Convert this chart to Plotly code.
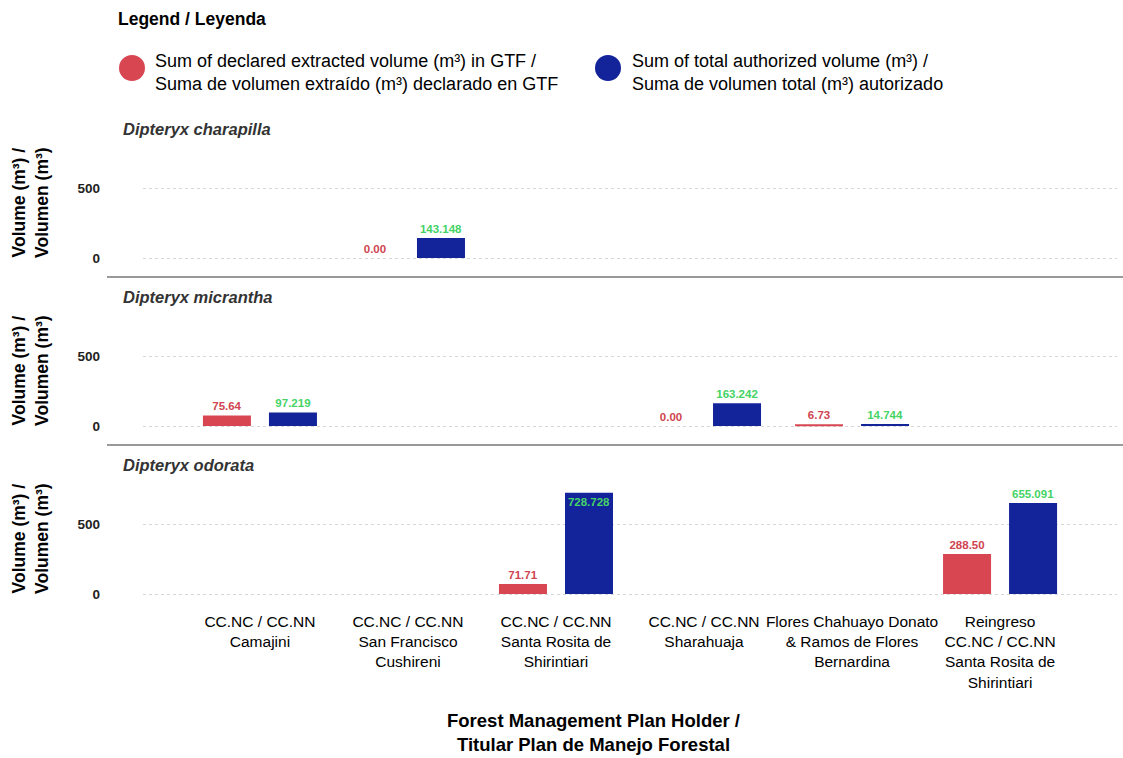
import plotly.graph_objects as go
from plotly.subplots import make_subplots

# data
holders = [
    "CC.NC / CC.NN<br>Camajini",
    "CC.NC / CC.NN<br>San Francisco<br>Cushireni",
    "CC.NC / CC.NN<br>Santa Rosita de<br>Shirintiari",
    "CC.NC / CC.NN<br>Sharahuaja",
    "Flores Chahuayo Donato<br>& Ramos de Flores<br>Bernardina",
    "Reingreso<br>CC.NC / CC.NN<br>Santa Rosita de<br>Shirintiari",
]
species = ["Dipteryx charapilla", "Dipteryx micrantha", "Dipteryx odorata"]

extracted_charapilla = [None, 0.00, None, None, None, None]
authorized_charapilla = [None, 143.148, None, None, None, None]
extracted_micrantha = [75.64, None, None, 0.00, 6.73, None]
authorized_micrantha = [97.219, None, None, 163.242, 14.744, None]
extracted_odorata = [None, None, 71.71, None, None, 288.50]
authorized_odorata = [None, None, 728.728, None, None, 655.091]

extracted = [extracted_charapilla, extracted_micrantha, extracted_odorata]
authorized = [authorized_charapilla, authorized_micrantha, authorized_odorata]

W, H = 1123, 758
RED = "#d84652"
BLUE = "#13239a"
RED_TXT = "#cf4450"
GREEN_TXT = "#45d366"
SANS = "Liberation Sans, Arial, sans-serif"


def px_x(x):
    return x / W


def px_y(y):
    return 1 - y / H


fig = make_subplots(rows=3, cols=1, shared_xaxes=True, vertical_spacing=0.02)

# panel pixel geometry (zero line pixel rows)
zero_rows = [258, 426, 594]
strip_rows = [129, 297, 465]
scale = 69.5 / 500  # px per unit
y_lo, y_hi = -40, 790

for i in range(3):
    fig.add_trace(go.Bar(
        x=holders, y=extracted[i], marker=dict(color=RED, line=dict(width=0)),
        texttemplate="%{y:.2f}", textposition="outside", textangle=0, cliponaxis=False,
        textfont=dict(color=RED_TXT, size=11.5, family=SANS, weight="bold"),
        constraintext="none", showlegend=False, hoverinfo="x+y",
    ), row=i + 1, col=1)
    pos = ["inside" if (v is not None and v > 700) else "outside" for v in authorized[i]]
    fig.add_trace(go.Bar(
        x=holders, y=authorized[i], marker=dict(color=BLUE, line=dict(width=0)),
        texttemplate="%{y:.3f}", textposition=pos, insidetextanchor="end", textangle=0,
        cliponaxis=False,
        textfont=dict(color=GREEN_TXT, size=11.5, family=SANS, weight="bold"),
        constraintext="none", showlegend=False, hoverinfo="x+y",
    ), row=i + 1, col=1)

    z = zero_rows[i]
    bottom = z - y_lo * scale
    top = bottom - (y_hi - y_lo) * scale
    yname = "yaxis" if i == 0 else f"yaxis{i + 1}"
    fig.layout[yname].update(
        domain=[px_y(bottom), px_y(top)], range=[y_lo, y_hi], automargin=False,
        tickvals=[0, 500], ticktext=["<b>0</b>", "<b>500</b>"],
        tickfont=dict(size=13.5, color="#222", family=SANS),
        ticklabelstandoff=42, showgrid=True, gridcolor="#d6d6d6", griddash="dot",
        gridwidth=1, zeroline=False, showline=False, ticks="",
    )

    # y title per panel
    fig.add_annotation(
        text="<b>Volume (m³) /<br>Volumen (m³)</b>",
        xref="paper", yref="paper", x=px_x(31), y=px_y((top + bottom) / 2 - 3),
        textangle=-90, showarrow=False, font=dict(size=17.5, family=SANS, color="black"),
        xanchor="center", yanchor="middle",
    )
    # strip title
    fig.add_annotation(
        text=f"<b><i>{species[i]}</i></b>", xref="paper", yref="paper",
        x=px_x(121), y=px_y(strip_rows[i]),
        xanchor="left", yanchor="middle", showarrow=False,
        font=dict(size=16.5, family=SANS, color="#333"),
    )

for i in range(3):
    xname = "xaxis" if i == 0 else f"xaxis{i + 1}"
    fig.layout[xname].update(
        domain=[px_x(143), px_x(1117)], range=[-0.79, 5.79], automargin=False,
        showgrid=False, zeroline=False, showline=False, ticks="", tickangle=0,
    )
fig.update_xaxes(showticklabels=False, row=1, col=1)
fig.update_xaxes(showticklabels=False, row=2, col=1)
fig.update_xaxes(showticklabels=True, tickfont=dict(size=15.5, family=SANS, color="black"),
                 ticklabelstandoff=11, row=3, col=1)

# separator lines between panels
for yy in [277, 445]:
    fig.add_shape(type="line", xref="paper", yref="paper", x0=px_x(107), x1=1,
                  y0=px_y(yy), y1=px_y(yy), line=dict(color="#777", width=1.5))

# x title
fig.add_annotation(
    text="<b>Forest Management Plan Holder /<br>Titular Plan de Manejo Forestal</b>",
    xref="paper", yref="paper", x=px_x(593), y=px_y(732), showarrow=False,
    xanchor="center", yanchor="middle", font=dict(size=18.5, family=SANS, color="black"),
)

# legend
fig.add_annotation(text="<b>Legend / Leyenda</b>", xref="paper", yref="paper",
                   x=px_x(116), y=px_y(19), xanchor="left", yanchor="middle", showarrow=False,
                   font=dict(size=17.5, family=SANS, color="black"))
legend_items = [
    (132, RED, 153, "Sum of declared extracted volume (m³) in GTF /<br>Suma de volumen extraído (m³) declarado en GTF"),
    (608, BLUE, 630, "Sum of total authorized volume (m³) /<br>Suma de volumen total (m³) autorizado"),
]
for cx, col, tx, label in legend_items:
    fig.add_shape(type="circle", xref="paper", yref="paper",
                  x0=px_x(cx - 13), x1=px_x(cx + 13), y0=px_y(68 + 13), y1=px_y(68 - 13),
                  fillcolor=col, line=dict(width=0))
    fig.add_annotation(text=label, xref="paper", yref="paper", x=px_x(tx), y=px_y(73),
                       xanchor="left", yanchor="middle", align="left", showarrow=False,
                       font=dict(size=18, family=SANS, color="black"))

fig.update_layout(
    width=W, height=H, margin=dict(l=0, r=0, t=0, b=0, autoexpand=False),
    plot_bgcolor="white", paper_bgcolor="white",
    barmode="group", bargap=0.108, bargroupgap=0.273,
    font=dict(family=SANS),
)

# page has a default body margin; drop it so the figure fills the window
fig.write_html("out.html", config={"displayModeBar": False},
               post_script="document.body.style.margin='0';document.body.style.overflow='hidden';")
